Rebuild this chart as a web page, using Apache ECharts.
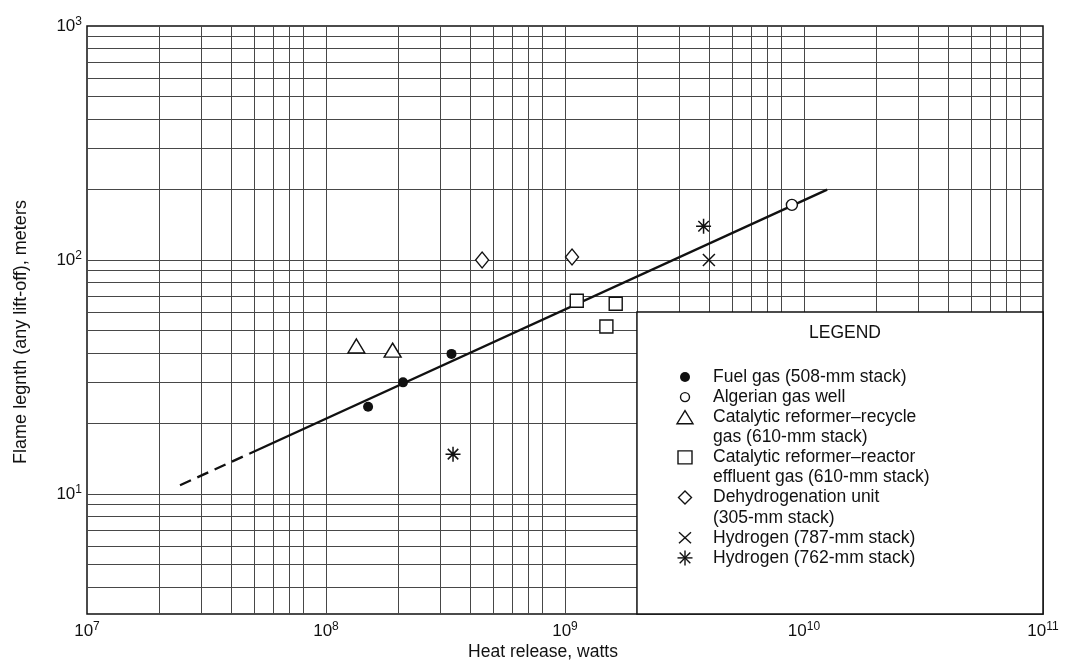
<!DOCTYPE html>
<html>
<head>
<meta charset="utf-8">
<title>Flame length vs heat release</title>
<script src="https://cdn.jsdelivr.net/npm/echarts@6/dist/echarts.min.js"></script>
<style>
  html, body { margin: 0; padding: 0; background: #fff; }
  #chart { width: 1069px; height: 663px; }
</style>
</head>
<body>
<div id="chart"></div>
<script>
// Heat release (W) and flame length (m) per source
const fuelGas          = [[1.5e8, 23.6], [2.1e8, 30.0], [3.35e8, 39.7]];
const algerianGasWell  = [[8.9e9, 172]];
const reformerRecycle  = [[1.34e8, 42.9], [1.9e8, 41.2]];
const reformerEffluent = [[1.12e9, 67], [1.63e9, 65], [1.49e9, 52]];
const dehydrogenation  = [[4.5e8, 100], [1.07e9, 103]];
const hydrogen787      = [[4.0e9, 100]];
const hydrogen762      = [[3.8e9, 139.5], [3.4e8, 14.8]];

// Correlation line: extrapolated (dashed) and fitted (solid) portions
const fitExtrapolated = [[2.45e7, 10.9], [4.8e7, 14.9]];
const fitSolid        = [[4.8e7, 14.9], [1.25e10, 200]];

// Axis ranges and labelled decades
const xMin = 1e7, xMax = 1e11;
const yMin = 3.07, yMax = 1000;
const xTickExponents = [7, 8, 9, 10, 11];
const yTickExponents = [1, 2, 3];

// Log-paper rulings
const xDecades = [1e7, 1e8, 1e9, 1e10];
const xRulingSteps = [1, 2, 3, 4, 5, 6, 7, 8];
const yDecades = [1, 10, 100];
const yRulingSteps = [1, 2, 3, 4, 5, 6, 7, 8, 9];

// Legend box extent (heat release from, flame length up to)
const legendBoxX = 2e9, legendBoxTop = 60;

const legendTitle = 'LEGEND';
const legendEntries = [
  { key: 'dot',      lines: ['Fuel gas (508-mm stack)'] },
  { key: 'ring',     lines: ['Algerian gas well'] },
  { key: 'triangle', lines: ['Catalytic reformer–recycle', 'gas (610-mm stack)'] },
  { key: 'square',   lines: ['Catalytic reformer–reactor', 'effluent gas (610-mm stack)'] },
  { key: 'diamond',  lines: ['Dehydrogenation unit', '(305-mm stack)'] },
  { key: 'cross',    lines: ['Hydrogen (787-mm stack)'] },
  { key: 'star',     lines: ['Hydrogen (762-mm stack)'] }
];

const xTitle = 'Heat release, watts';
const yTitle = 'Flame legnth (any lift-off), meters';

// ---------------------------------------------------------------
const FONT = '"Liberation Sans", Arial, Helvetica, sans-serif';
const INK = '#111111';
const RULE = '#474747';

const xRulings = [];
xDecades.forEach(d => xRulingSteps.forEach(s => {
  const v = d * s;
  if (v > xMin && v < xMax) xRulings.push(v);
}));
const yRulings = [];
yDecades.forEach(d => yRulingSteps.forEach(s => {
  const v = d * s;
  if (v > yMin && v < yMax) yRulings.push(v);
}));

function powerLabel(exps) {
  return function (v) {
    const e = Math.log10(v);
    const r = Math.round(e);
    if (Math.abs(e - r) > 1e-6 || exps.indexOf(r) < 0) return '';
    return '{b|10}{s|' + r + '}';
  };
}

const labelRich = {
  b: { fontFamily: FONT, fontSize: 17, color: INK },
  s: { fontFamily: FONT, fontSize: 12, color: INK, padding: [0, 0, 9, 0] }
};

const hollow = { color: '#fff', borderColor: INK, borderWidth: 1.4, opacity: 1 };
const stroked = { color: 'transparent', borderColor: INK, borderWidth: 1.5, opacity: 1 };
const CROSS = 'path://M0,0L10,10M10,0L0,10';
const STAR = 'path://M5,0L5,10M0,5L10,5M1.5,1.5L8.5,8.5M8.5,1.5L1.5,8.5';

function scatter(name, data, symbol, size, style) {
  return {
    type: 'scatter', name: name, data: data, symbol: symbol, symbolSize: size,
    itemStyle: style, z: 6, silent: true, animation: false
  };
}

// Legend keys and text drawn inside the legend box
const keyX = 685, textX = 713, firstRowY = 377, rowStep = 20.1;
const legendFont = 17.5;
const legendGraphics = [{
  type: 'text', x: 845, y: 333, z: 20,
  style: { text: legendTitle, fontFamily: FONT, fontSize: legendFont, fill: INK, align: 'center', verticalAlign: 'middle' }
}];
function keyShape(key, x, y) {
  const st = { stroke: INK, lineWidth: 1.4, fill: '#fff' };
  const ln = { stroke: INK, lineWidth: 1.4 };
  switch (key) {
    case 'dot': return [{ type: 'circle', shape: { cx: x, cy: y, r: 5 }, style: { fill: INK } }];
    case 'ring': return [{ type: 'circle', shape: { cx: x, cy: y, r: 4.5 }, style: st }];
    case 'triangle': return [{ type: 'polygon', shape: { points: [[x, y - 6.5], [x + 8, y + 6.5], [x - 8, y + 6.5]] }, style: st }];
    case 'square': return [{ type: 'rect', shape: { x: x - 7, y: y - 6.5, width: 14, height: 13 }, style: st }];
    case 'diamond': return [{ type: 'polygon', shape: { points: [[x, y - 6.5], [x + 6.5, y], [x, y + 6.5], [x - 6.5, y]] }, style: st }];
    case 'cross': return [
      { type: 'line', shape: { x1: x - 6, y1: y - 5.5, x2: x + 6, y2: y + 5.5 }, style: ln },
      { type: 'line', shape: { x1: x + 6, y1: y - 5.5, x2: x - 6, y2: y + 5.5 }, style: ln }
    ];
    case 'star': return [
      { type: 'line', shape: { x1: x, y1: y - 7.5, x2: x, y2: y + 7.5 }, style: ln },
      { type: 'line', shape: { x1: x - 7.5, y1: y, x2: x + 7.5, y2: y }, style: ln },
      { type: 'line', shape: { x1: x - 5.3, y1: y - 5.3, x2: x + 5.3, y2: y + 5.3 }, style: ln },
      { type: 'line', shape: { x1: x + 5.3, y1: y - 5.3, x2: x - 5.3, y2: y + 5.3 }, style: ln }
    ];
  }
  return [];
}
let row = 0;
legendEntries.forEach(entry => {
  const y0 = firstRowY + row * rowStep;
  keyShape(entry.key, keyX, y0).forEach(g => { g.z = 20; legendGraphics.push(g); });
  entry.lines.forEach(line => {
    legendGraphics.push({
      type: 'text', x: textX, y: firstRowY + row * rowStep, z: 20,
      style: { text: line, fontFamily: FONT, fontSize: legendFont, fill: INK, align: 'left', verticalAlign: 'middle' }
    });
    row++;
  });
});

const names = legendEntries.map(e => e.lines.join(' '));

const option = {
  backgroundColor: '#fff',
  animation: false,
  grid: { left: 87, right: 26, top: 26, bottom: 49, show: true, borderColor: INK, borderWidth: 1.5, backgroundColor: 'transparent' },
  xAxis: {
    type: 'log', logBase: 10, min: xMin, max: xMax,
    axisLine: { show: false }, axisTick: { show: false }, splitLine: { show: false },
    axisLabel: { formatter: powerLabel(xTickExponents), margin: 7, rich: labelRich, showMinLabel: true, showMaxLabel: true, hideOverlap: false }
  },
  yAxis: {
    type: 'log', logBase: 10, min: yMin, max: yMax,
    axisLine: { show: false }, axisTick: { show: false }, splitLine: { show: false },
    axisLabel: { formatter: powerLabel(yTickExponents), margin: 5, rich: labelRich, showMinLabel: true, showMaxLabel: true, hideOverlap: false }
  },
  graphic: [
    {
      type: 'text', x: 543, y: 652, z: 20,
      style: { text: xTitle, fontFamily: FONT, fontSize: 17.5, fill: INK, align: 'center', verticalAlign: 'middle' }
    },
    {
      type: 'text', x: 21, y: 332, rotation: Math.PI / 2, z: 20,
      style: { text: yTitle, fontFamily: FONT, fontSize: 18, fill: INK, align: 'center', verticalAlign: 'middle' }
    }
  ].concat(legendGraphics),
  series: [
    {
      type: 'line', name: 'rulings', data: [], silent: true,
      markLine: {
        silent: true, z: 1, symbol: ['none', 'none'], label: { show: false },
        lineStyle: { color: RULE, width: 1, type: 'solid', opacity: 1 }, animation: false,
        data: xRulings.map(v => ({ xAxis: v })).concat(yRulings.map(v => ({ yAxis: v })))
      }
    },
    {
      type: 'line', name: 'legend box', data: [], silent: true,
      markArea: {
        silent: true, z: 3,
        itemStyle: { color: '#fff', borderColor: INK, borderWidth: 1.5, opacity: 1 },
        label: { show: false },
        data: [[{ xAxis: legendBoxX, yAxis: yMin }, { xAxis: xMax, yAxis: legendBoxTop }]]
      }
    },
    {
      type: 'line', name: 'extrapolated', data: fitExtrapolated, symbol: 'none', z: 5, silent: true,
      lineStyle: { color: INK, width: 2.4, type: [12, 7] }
    },
    {
      type: 'line', name: 'correlation', data: fitSolid, symbol: 'none', z: 5, silent: true,
      lineStyle: { color: INK, width: 2.4, type: 'solid' }
    },
    scatter(names[0], fuelGas, 'circle', 10, { color: INK, opacity: 1 }),
    scatter(names[1], algerianGasWell, 'circle', 11, hollow),
    scatter(names[2], reformerRecycle, 'triangle', [17, 14], hollow),
    scatter(names[3], reformerEffluent, 'rect', 13, hollow),
    scatter(names[4], dehydrogenation, 'diamond', [13, 16], hollow),
    scatter(names[5], hydrogen787, CROSS, 12, stroked),
    scatter(names[6], hydrogen762, STAR, 15, stroked)
  ]
};

const chart = echarts.init(document.getElementById('chart'), null, { renderer: 'canvas' });
chart.setOption(option);
</script>
</body>
</html>
